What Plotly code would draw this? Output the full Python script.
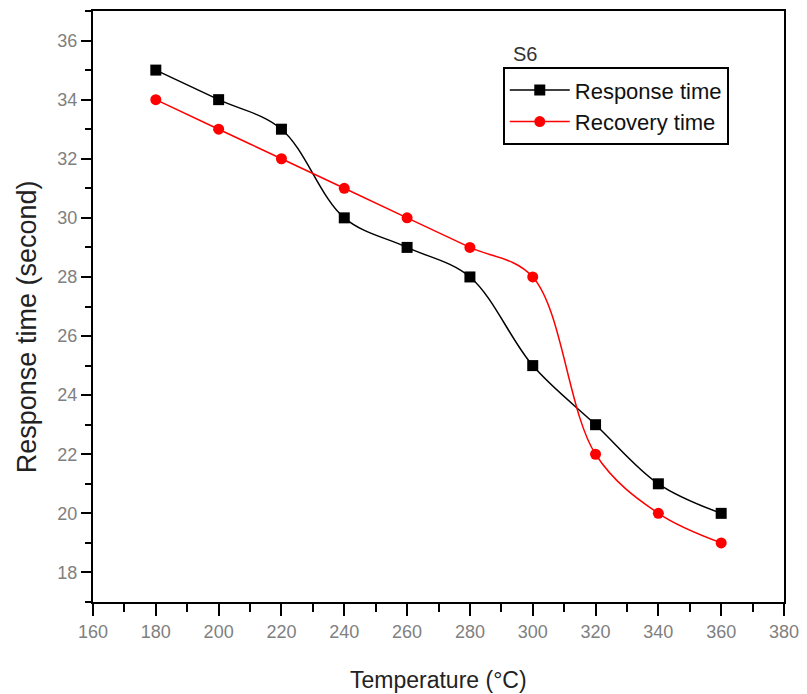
import plotly.graph_objects as go

temperature = [180, 200, 220, 240, 260, 280, 300, 320, 340, 360]
response_time = [35, 34, 33, 30, 29, 28, 25, 23, 21, 20]
recovery_time = [34, 33, 32, 31, 30, 29, 28, 22, 20, 19]

x_ticks = list(range(160, 381, 20))
y_ticks = list(range(18, 37, 2))

fig = go.Figure()
fig.add_trace(go.Scatter(
    x=temperature, y=response_time, name="Response time",
    mode="lines+markers", line=dict(color="black", width=1.5, shape="spline", smoothing=1.0),
    marker=dict(symbol="square", size=11, color="black")))
fig.add_trace(go.Scatter(
    x=temperature, y=recovery_time, name="Recovery time",
    mode="lines+markers", line=dict(color="red", width=1.5, shape="spline", smoothing=1.0),
    marker=dict(symbol="circle", size=11, color="red")))

tick_font = dict(family="Liberation Sans, Arial", size=18, color="#808080")

fig.update_xaxes(
    range=[160, 380], tickvals=x_ticks, automargin=False,
    showline=True, linecolor="black", linewidth=2, mirror=True,
    ticks="outside", ticklen=12, tickwidth=2, tickcolor="black",
    showgrid=False, zeroline=False, tickfont=tick_font,
    minor=dict(dtick=10, ticks="outside", ticklen=8, tickwidth=2, tickcolor="black", showgrid=False))
fig.update_yaxes(
    range=[17, 37], tickvals=y_ticks, automargin=False,
    showline=True, linecolor="black", linewidth=2, mirror=True,
    ticks="outside", ticklen=10, tickwidth=2, tickcolor="black",
    showgrid=False, zeroline=False, tickfont=tick_font,
    minor=dict(dtick=1, ticks="outside", ticklen=6, tickwidth=2, tickcolor="black", showgrid=False))

fig.add_annotation(xref="paper", yref="paper", x=0.5, y=-0.132, text="Temperature (°C)",
                   showarrow=False, xanchor="center", yanchor="middle",
                   font=dict(family="Liberation Sans, Arial", size=23, color="#222222"))
fig.add_annotation(xref="paper", yref="paper", x=-0.0955, y=0.465, text="Response time (second)",
                   showarrow=False, xanchor="center", yanchor="middle", textangle=-90,
                   font=dict(family="Liberation Sans, Arial", size=27, color="#222222"))
fig.add_annotation(xref="x", yref="paper", x=293, y=0.906, text="S6", showarrow=False,
                   xanchor="left", yanchor="bottom",
                   font=dict(family="Liberation Sans, Arial", size=20, color="#333333"))

fig.update_layout(
    width=807, height=694,
    margin=dict(l=93, r=23, t=11, b=92),
    plot_bgcolor="white", paper_bgcolor="white",
    showlegend=True,
    legend=dict(x=0.593, y=0.905, xanchor="left", yanchor="top",
                bordercolor="black", borderwidth=2, bgcolor="white",
                font=dict(family="Liberation Sans, Arial", size=22, color="#111111"),
                tracegroupgap=0, itemwidth=60),
)

fig.write_html("out.html")
